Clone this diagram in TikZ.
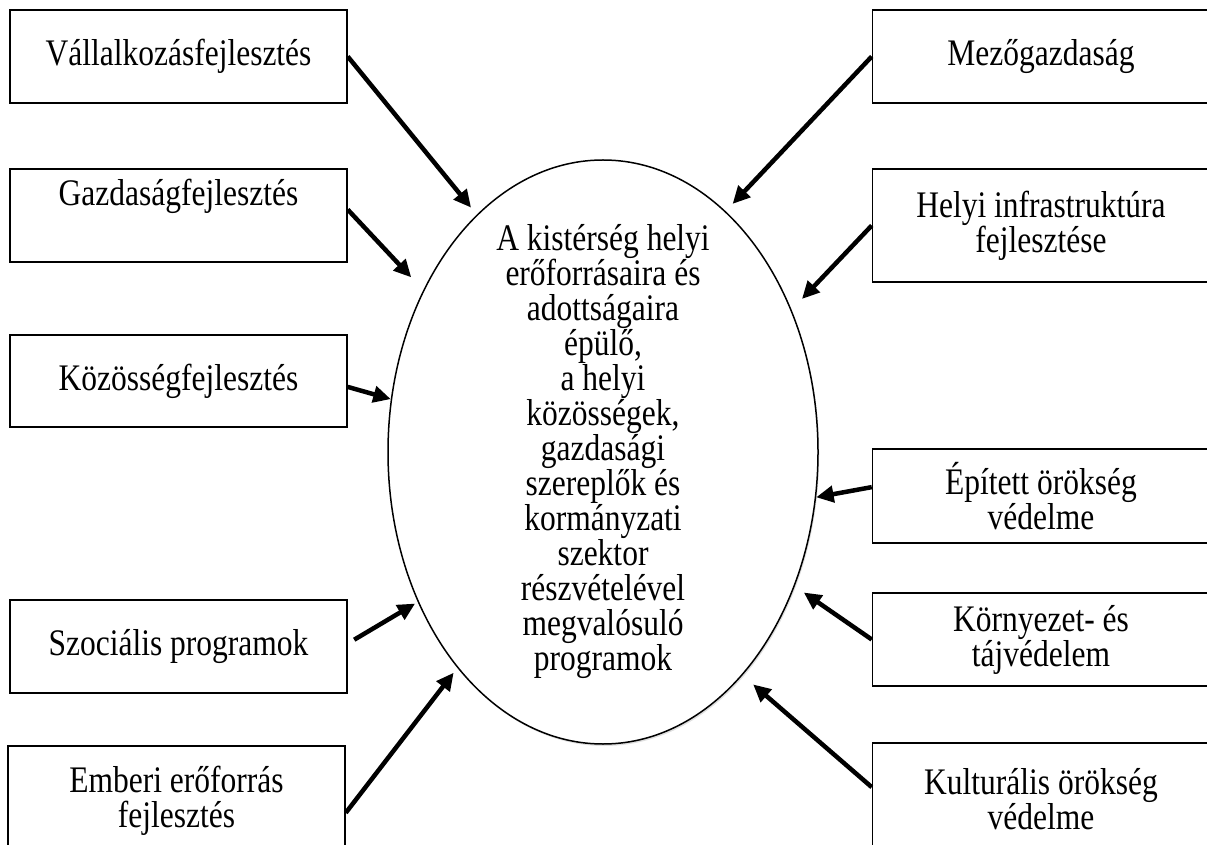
\documentclass[tikz,border=0pt]{standalone}
\usepackage{fontspec}
\setmainfont{Liberation Serif}[FakeStretch=0.84]
\usetikzlibrary{shapes.geometric,arrows.meta,shadows}

\begin{document}
\begin{tikzpicture}[x=0.4pt, y=-0.4pt, >={Triangle[length=7pt,width=6.5pt]},
	box/.style={draw, line width=0.6pt, align=center, inner sep=0pt,
		minimum width=134.8pt, minimum height=37.2pt, font=\fontsize{15}{14}\selectfont},
	ptr/.style={->, line width=1.8pt}]
	\useasboundingbox (0,0) rectangle (1207,845);
	
	% Centre
	\node[draw, ellipse, line width=0.6pt, fill=white, inner sep=0pt,
		minimum width=172pt, minimum height=233.6pt,
		drop shadow={opacity=0.25, shadow xshift=0.5pt, shadow yshift=-0.8pt}] (kozep) at (603,452) {};
	\node[align=center, font=\fontsize{15}{14}\selectfont] (kozeptext) at (kozep.center)
		{A kistérség helyi\\erőforrásaira és\\adottságaira\\épülő,\\a helyi\\közösségek,\\gazdasági\\szereplők és\\kormányzati\\szektor\\részvételével\\megvalósuló\\programok};
	
	% Left column
	\node[box] (vall) at (178.5,56.5) {Vállalkozásfejlesztés};
	\node[box] (gazd) at (178.5,215.5) {Gazdaságfejlesztés\\\strut};
	\node[box, minimum height=36.8pt] (koz) at (178.5,381) {Közösségfejlesztés};
	\node[box] (szoc) at (178.5,646.5) {Szociális programok};
	\node[box, minimum height=44pt] (emb) at (176.5,801) {Emberi erőforrás\\fejlesztés};
	
	% Right column
	\node[box] (mezo) at (1041,56.5) {Mezőgazdaság};
	\node[box, minimum height=45.2pt] (infra) at (1041,225.5) {Helyi infrastruktúra\\fejlesztése};
	\node[box, minimum height=37.6pt] (epit) at (1041,496) {Épített örökség\\védelme};
	\node[box] (korny) at (1041,639.5) {Környezet- és\\tájvédelem};
	\node[box, minimum height=44.8pt] (kult) at (1041,799) {Kulturális örökség\\védelme};
	
	% Arrows into the centre
	\draw[ptr, shorten >=3.6pt] (vall.east) -- (kozep.118);
	\draw[ptr, shorten >=7pt] (gazd.2) -- (kozep.138);
	\draw[ptr] (koz.-2) -- (kozep.166);
	\draw[ptr, shorten <=3pt, shorten >=1.2pt] (szoc.1.5) -- (kozep.219);
	\draw[ptr, shorten >=2.4pt] (emb.-4) -- (kozep.236);
	\draw[ptr, shorten >=4pt] (mezo.west) -- (kozep.63);
	\draw[ptr, shorten >=6pt] (infra.west) -- (kozep.37);
	\draw[ptr] (epit.177) -- (kozep.-12.6);
	\draw[ptr, shorten >=4.4pt] (korny.west) -- (kozep.-35);
	\draw[ptr, shorten >=5.6pt] (kult.176) -- (kozep.-58);
\end{tikzpicture}
\end{document}
